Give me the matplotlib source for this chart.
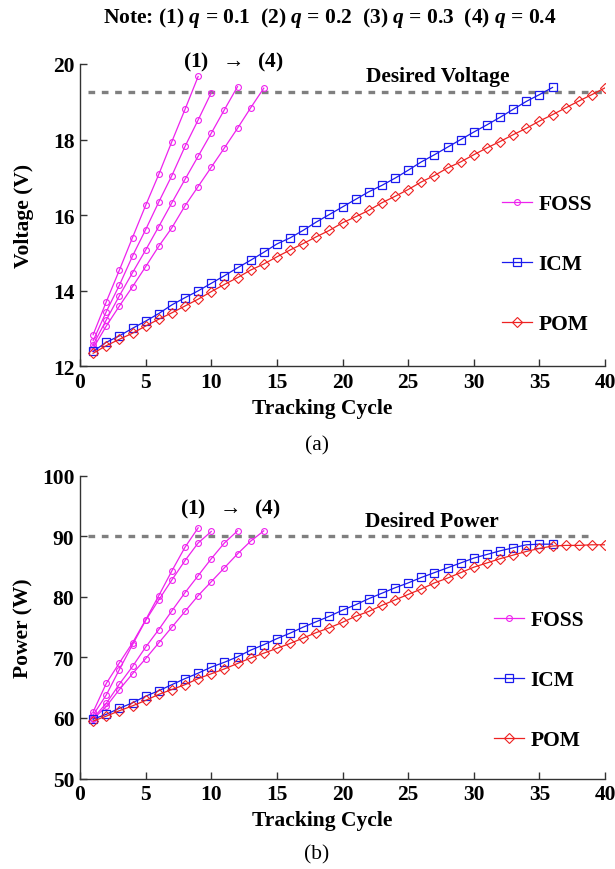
import numpy as np
import matplotlib
matplotlib.use('Agg')
import matplotlib.pyplot as plt

plt.rcParams['font.family'] = ['Liberation Serif', 'DejaVu Serif']
plt.rcParams['font.weight'] = 'bold'
plt.rcParams['mathtext.fontset'] = 'custom'
plt.rcParams['mathtext.it'] = 'Liberation Serif:italic:bold'
plt.rcParams['mathtext.rm'] = 'Liberation Serif:bold'

# ---- data ----
# (a) output voltage (V) per tracking cycle
foss_v = [
    [12.84, 13.71, 14.55, 15.41, 16.26, 17.08, 17.95, 18.80, 19.67],
    [12.68, 13.45, 14.15, 14.92, 15.62, 16.35, 17.05, 17.82, 18.52, 19.24],
    [12.57, 13.23, 13.87, 14.48, 15.08, 15.70, 16.33, 16.95, 17.56, 18.17,
     18.79, 19.40],
    [12.48, 13.07, 13.60, 14.11, 14.64, 15.18, 15.67, 16.25, 16.76, 17.27,
     17.78, 18.30, 18.84, 19.36],
]
icm_v = [12.40, 12.64, 12.81, 13.01, 13.20, 13.40, 13.63, 13.82, 14.00, 14.20,
         14.40, 14.61, 14.81, 15.02, 15.24, 15.40, 15.60, 15.82, 16.02, 16.22,
         16.42, 16.62, 16.79, 16.98, 17.19, 17.41, 17.60, 17.80, 18.00, 18.20,
         18.39, 18.59, 18.80, 19.01, 19.19, 19.38]
pom_v = [12.35, 12.55, 12.72, 12.88, 13.07, 13.25, 13.42, 13.60, 13.78, 13.98,
         14.17, 14.35, 14.55, 14.71, 14.90, 15.08, 15.25, 15.43, 15.60, 15.80,
         15.96, 16.13, 16.33, 16.50, 16.68, 16.88, 17.05, 17.25, 17.41, 17.60,
         17.78, 17.95, 18.13, 18.30, 18.49, 18.66, 18.84, 19.02, 19.19, 19.37]
desired_v = 19.25

# (b) output power (W) per tracking cycle
foss_p = [
    [61.0, 65.7, 69.1, 72.4, 76.2, 80.2, 84.3, 88.2, 91.4],
    [60.5, 63.8, 68.0, 72.1, 76.1, 79.5, 82.8, 86.0, 88.9, 90.8],
    [60.0, 62.4, 65.6, 68.5, 71.7, 74.6, 77.7, 80.7, 83.5, 86.3, 88.9, 90.9],
    [59.8, 61.9, 64.7, 67.3, 69.8, 72.4, 75.0, 77.6, 80.2, 82.5, 84.8, 87.1,
     89.2, 90.9],
]
icm_p = [59.8, 60.6, 61.6, 62.5, 63.6, 64.5, 65.5, 66.5, 67.4, 68.4, 69.2,
         70.1, 71.2, 72.1, 73.1, 74.0, 75.0, 75.9, 76.8, 77.8, 78.7, 79.7,
         80.6, 81.5, 82.3, 83.2, 84.0, 84.8, 85.6, 86.4, 87.0, 87.6, 88.1,
         88.6, 88.7, 88.7]
pom_p = [59.5, 60.3, 61.2, 62.0, 62.9, 63.9, 64.7, 65.5, 66.5, 67.3, 68.1,
         69.0, 69.9, 70.7, 71.5, 72.3, 73.2, 74.1, 74.9, 75.8, 76.8, 77.6,
         78.6, 79.5, 80.4, 81.3, 82.3, 83.1, 84.0, 84.9, 85.6, 86.3, 86.9,
         87.5, 88.0, 88.4, 88.5, 88.5, 88.6, 88.6]
desired_p = 90.0

fs = 15.5
axis_col = '#333333'


def setup(ax, ylim, yticks, ylabel):
    ax.set_xlim(0, 40)
    ax.set_ylim(*ylim)
    ax.set_xticks(np.arange(0, 41, 5))
    ax.set_yticks(yticks)
    for s in ['top', 'right']:
        ax.spines[s].set_visible(False)
    for s in ['left', 'bottom']:
        ax.spines[s].set_color(axis_col)
        ax.spines[s].set_linewidth(1.0)
    ax.tick_params(direction='in', length=5, width=1.0, color=axis_col,
                   labelsize=fs, pad=4)
    ax.set_xlabel('Tracking Cycle', fontsize=fs, fontweight='bold')
    ax.xaxis.set_label_coords(0.461, -0.105)
    ax.set_ylabel(ylabel, fontsize=fs, fontweight='bold')
    ax.yaxis.set_label_coords(-0.088, 0.5)


def draw(ax, foss, icm, pom, desired, desired_end):
    ax.plot([0.6, desired_end], [desired, desired], color='#7f7f7f', lw=2.4,
            dashes=(2, 2), zorder=1)
    for i, c in enumerate(foss):
        ax.plot(np.arange(1, len(c) + 1), c, color='#ee22ee', lw=0.9,
                marker='o', ms=4.2, mfc='none', mew=0.8,
                label='FOSS' if i == 0 else None)
    ax.plot(np.arange(1, len(icm) + 1), icm, color='#1a1aee', lw=0.9,
            marker='s', ms=6, mfc='none', mew=0.9, label='ICM')
    ax.plot(np.arange(1, len(pom) + 1), pom, color='#ee2222', lw=0.9,
            marker='D', ms=5, mfc='none', mew=0.8, label='POM')


fig = plt.figure(figsize=(6.15, 8.7), dpi=100)
ax1 = fig.add_axes([0.1301, 0.5776, 0.8537, 0.3477])
ax2 = fig.add_axes([0.1301, 0.1040, 0.8537, 0.3480])

draw(ax1, foss_v, icm_v, pom_v, desired_v, 40)
setup(ax1, (12, 20), [12, 14, 16, 18, 20], 'Voltage (V)')
ax1.legend(loc='center left', bbox_to_anchor=(0.803, 0.338), frameon=False,
           fontsize=fs, labelspacing=1.85, handlelength=1.4, handletextpad=0.3,
           borderpad=0, borderaxespad=0)

draw(ax2, foss_p, icm_p, pom_p, desired_p, 39)
setup(ax2, (50, 100), [50, 60, 70, 80, 90, 100], 'Power (W)')
ax2.legend(loc='center left', bbox_to_anchor=(0.788, 0.325), frameon=False,
           fontsize=fs, labelspacing=1.85, handlelength=1.4, handletextpad=0.3,
           borderpad=0, borderaxespad=0)

fig.text(0.537, 0.979, r'Note: (1) $q$ = 0.1  (2) $q$ = 0.2  (3) $q$ = 0.3  (4) $q$ = 0.4',
         ha='center', va='center', fontsize=15.5, fontweight='bold')
fig.text(0.379, 0.928, r'(1)  $\rightarrow$  (4)', ha='center', va='center',
         fontsize=fs, fontweight='bold')
fig.text(0.374, 0.414, r'(1)  $\rightarrow$  (4)', ha='center', va='center',
         fontsize=fs, fontweight='bold')
fig.text(0.711, 0.912, 'Desired Voltage', ha='center', va='center',
         fontsize=fs, fontweight='bold')
fig.text(0.702, 0.400, 'Desired Power', ha='center', va='center',
         fontsize=fs, fontweight='bold')
fig.text(0.515, 0.487, '(a)', ha='center', va='center', fontsize=fs,
         fontweight='normal')
fig.text(0.515, 0.017, '(b)', ha='center', va='center', fontsize=fs,
         fontweight='normal')

fig.savefig('out.png', dpi=100)
